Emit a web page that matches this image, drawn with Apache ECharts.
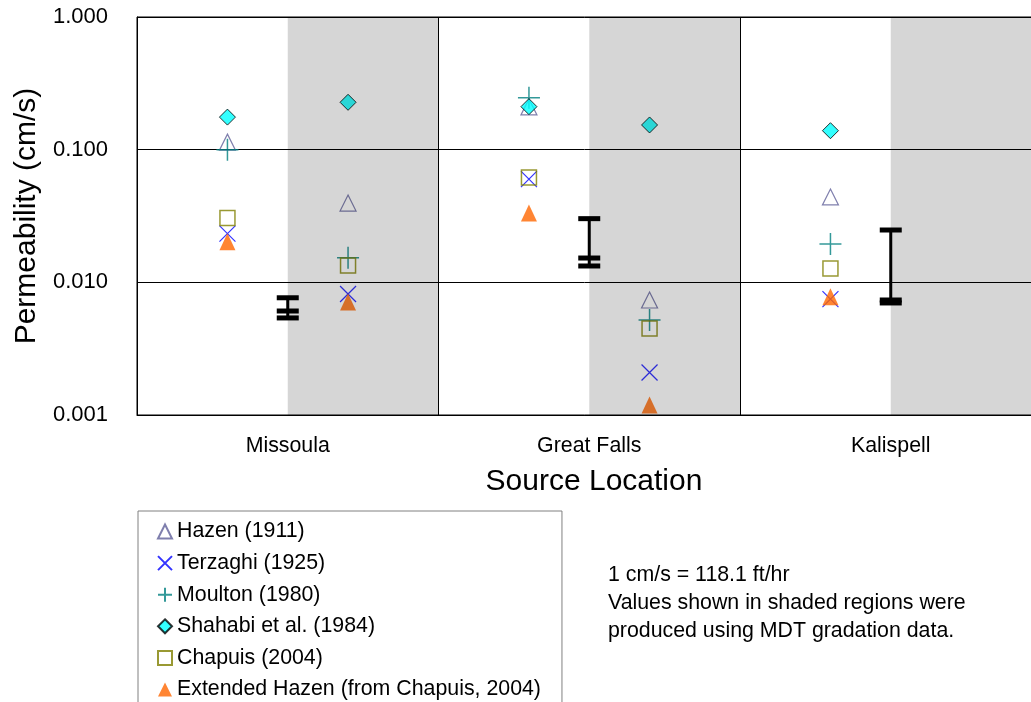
<!DOCTYPE html>
<html>
<head>
<meta charset="utf-8">
<title>Permeability by Source Location</title>
<script src="https://cdn.jsdelivr.net/npm/echarts@6/dist/echarts.min.js"></script>
<style>
  html, body { margin: 0; padding: 0; background: #ffffff; }
  #chart { width: 1031px; height: 702px; }
</style>
</head>
<body>
<div id="chart"></div>
<script>
// Source locations (one band each on the x axis)
const locations = ['Missoula', 'Great Falls', 'Kalispell'];

// Permeability estimates in cm/s: "Lab" = project gradations,
// "Mdt" = values from MDT gradation data (shaded half of each band)
const hazenLab     = [0.114, 0.21, 0.044];
const hazenMdt     = [0.0396, 0.00736, null];
const terzaghiLab  = [0.0233, 0.060, 0.00748];
const terzaghiMdt  = [0.00817, 0.00209, null];
const moultonLab   = [0.0999, 0.246, 0.01945];
const moultonMdt   = [0.01534, 0.0052, null];
const shahabiLab   = [0.176, 0.211, 0.139];
const shahabiMdt   = [0.2275, 0.1535, null];
const chapuisLab   = [0.0306, 0.0617, 0.0127];
const chapuisMdt   = [0.0134, 0.00449, null];
const extHazenLab  = [0.0202, 0.0333, 0.0078];
const extHazenMdt  = [0.00711, 0.00119, null];

// Measured permeability range per location (top cap, middle cap, bottom cap)
const measuredHigh = [0.00765, 0.0302, 0.0248];
const measuredMid  = [0.00608, 0.01525, 0.00736];
const measuredLow  = [0.00539, 0.01328, 0.00699];

// Log axis limits and tick label precision
const Y_MIN = 0.001;
const Y_MAX = 1;
const yTickDigits = 3;

const FONT = "'Liberation Sans', Arial, Helvetica, sans-serif";
const SMALL = 21.33;

// Horizontal placement inside each location band
const LAB_X = 0.3;
const RANGE_X = 0.5;
const MDT_X = 0.7;

function points(lab, mdt) {
  const out = [];
  locations.forEach((_, i) => {
    if (lab[i] != null) out.push([i + LAB_X, lab[i]]);
    if (mdt[i] != null) out.push([i + MDT_X, mdt[i]]);
  });
  return out;
}

const methods = [
  { name: 'Hazen (1911)', lab: hazenLab, mdt: hazenMdt, symbol: 'triangle', size: [16, 16],
    itemStyle: { color: 'transparent', borderColor: '#5f5f98', borderWidth: 1.2 } },
  { name: 'Terzaghi (1925)', lab: terzaghiLab, mdt: terzaghiMdt, symbol: 'path://M0,0L10,10M10,0L0,10', size: 16,
    itemStyle: { color: 'transparent', borderColor: '#0000ff', borderWidth: 1.2 } },
  { name: 'Moulton (1980)', lab: moultonLab, mdt: moultonMdt, symbol: 'path://M5,0L5,10M0,5L10,5', size: 22,
    itemStyle: { color: 'transparent', borderColor: '#008080', borderWidth: 1.5 } },
  { name: 'Shahabi et al. (1984)', lab: shahabiLab, mdt: shahabiMdt, symbol: 'diamond', size: 16,
    itemStyle: { color: '#00ffff', borderColor: '#000000', borderWidth: 1 } },
  { name: 'Chapuis (2004)', lab: chapuisLab, mdt: chapuisMdt, symbol: 'rect', size: 15,
    itemStyle: { color: 'transparent', borderColor: '#808000', borderWidth: 1.5 } },
  { name: 'Extended Hazen (from Chapuis, 2004)', lab: extHazenLab, mdt: extHazenMdt, symbol: 'triangle', size: [16, 17],
    itemStyle: { color: '#ff6600', borderWidth: 0 } }
];

const scatterSeries = methods.map(m => ({
  name: m.name,
  type: 'scatter',
  xAxisIndex: 1,
  yAxisIndex: 0,
  symbol: m.symbol,
  symbolSize: m.size,
  itemStyle: m.itemStyle,
  emphasis: { disabled: true },
  silent: true,
  z: 2,
  data: points(m.lab, m.mdt)
}));

// Measured range bars: vertical stem with caps
const rangeSeries = {
  name: 'Measured range',
  type: 'custom',
  xAxisIndex: 1,
  yAxisIndex: 0,
  silent: true,
  z: 3,
  encode: { x: 0, y: [1, 2, 3] },
  data: locations.map((_, i) => [i + RANGE_X, measuredHigh[i], measuredMid[i], measuredLow[i]]),
  renderItem: function (params, api) {
    const x = api.value(0);
    const top = api.coord([x, api.value(1)]);
    const mid = api.coord([x, api.value(2)]);
    const bot = api.coord([x, api.value(3)]);
    const capW = 22, capH = 5;
    const caps = [top, mid, bot].map(p => ({
      type: 'rect',
      shape: { x: p[0] - capW / 2, y: p[1] - capH / 2, width: capW, height: capH },
      style: { fill: '#000000' }
    }));
    return {
      type: 'group',
      children: [{
        type: 'line',
        shape: { x1: top[0], y1: top[1], x2: bot[0], y2: bot[1] },
        style: { stroke: '#000000', lineWidth: 3 }
      }].concat(caps)
    };
  }
};

// Translucent shading over the MDT half of each band
const shadeSeries = {
  name: 'MDT shading',
  type: 'custom',
  xAxisIndex: 1,
  yAxisIndex: 0,
  silent: true,
  z: 5,
  encode: { x: [0, 1], y: [2, 3] },
  data: locations.map((_, i) => [i + 0.5, i + 1, Y_MIN, Y_MAX]),
  renderItem: function (params, api) {
    const p0 = api.coord([api.value(0), api.value(3)]);
    const p1 = api.coord([api.value(1), api.value(2)]);
    return {
      type: 'rect',
      shape: { x: p0[0], y: p0[1], width: p1[0] - p0[0], height: p1[1] - p0[1] },
      style: { fill: 'rgba(0,0,0,0.16)' }
    };
  }
};

const chart = echarts.init(document.getElementById('chart'), null, { renderer: 'canvas' });

chart.setOption({
  animation: false,
  backgroundColor: '#ffffff',
  textStyle: { fontFamily: FONT },
  grid: {
    show: true,
    left: 137,
    top: 17,
    width: 904.5,
    height: 398,
    outerBoundsMode: 'none',
    containLabel: false,
    borderColor: '#000000',
    borderWidth: 1,
    backgroundColor: 'transparent'
  },
  xAxis: [
    {
      type: 'category',
      data: locations,
      boundaryGap: true,
      axisLine: { show: true, lineStyle: { color: '#000000', width: 1 } },
      axisTick: { show: false },
      splitLine: { show: true, lineStyle: { color: '#000000', width: 1 } },
      axisLabel: { color: '#000000', fontSize: SMALL, fontFamily: FONT, margin: 21 }
    },
    {
      type: 'value',
      min: 0,
      max: locations.length,
      show: false
    }
  ],
  yAxis: [{
    type: 'log',
    logBase: 10,
    min: Y_MIN,
    max: Y_MAX,
    axisLine: { show: true, lineStyle: { color: '#000000', width: 1 } },
    axisTick: { show: false },
    splitLine: { show: true, lineStyle: { color: '#000000', width: 1 } },
    axisLabel: {
      color: '#000000',
      fontSize: 22,
      fontFamily: FONT,
      margin: 29,
      formatter: v => Number(v).toFixed(yTickDigits)
    }
  }],
  legend: {
    orient: 'vertical',
    left: 138,
    top: 511,
    height: 240,
    itemWidth: 14,
    itemHeight: 14,
    itemGap: 10.6,
    padding: [10, 21, 8, 19],
    borderColor: '#808080',
    borderWidth: 1,
    selectedMode: false,
    textStyle: { color: '#000000', fontSize: SMALL, fontFamily: FONT },
    data: methods.map(m => m.name)
  },
  graphic: [
    {
      type: 'text',
      x: 27,
      y: 216,
      rotation: Math.PI / 2,
      silent: true,
      style: {
        text: 'Permeability (cm/s)',
        fontSize: 30,
        fontFamily: FONT,
        fill: '#000000',
        align: 'center',
        verticalAlign: 'middle'
      }
    },
    {
      type: 'text',
      x: 594,
      y: 482,
      silent: true,
      style: {
        text: 'Source Location',
        fontSize: 30,
        fontFamily: FONT,
        fill: '#000000',
        align: 'center',
        verticalAlign: 'middle'
      }
    },
    {
      type: 'text',
      x: 608,
      y: 561,
      silent: true,
      style: {
        text: '1 cm/s = 118.1 ft/hr\nValues shown in shaded regions were\nproduced using MDT gradation data.',
        fontSize: SMALL,
        lineHeight: 28,
        fontFamily: FONT,
        fill: '#000000',
        align: 'left',
        verticalAlign: 'top'
      }
    }
  ],
  series: scatterSeries.concat([rangeSeries, shadeSeries])
});
</script>
</body>
</html>
